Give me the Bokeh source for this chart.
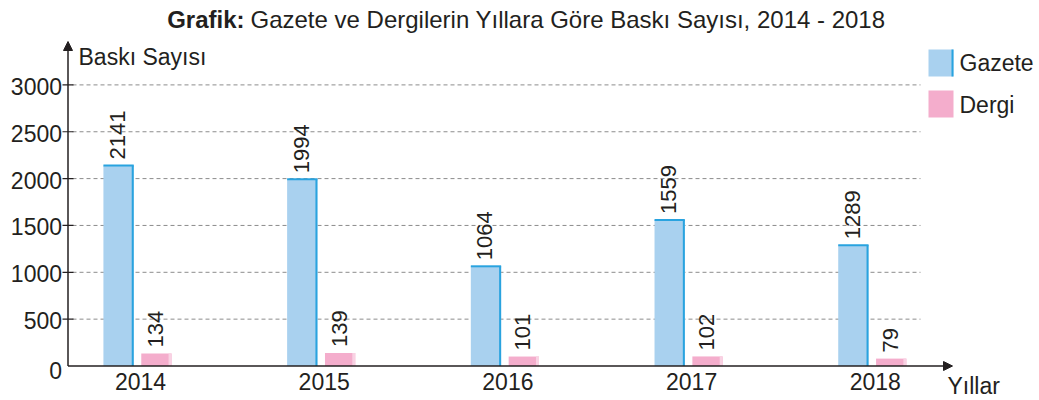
import numpy as np
from bokeh.plotting import figure
from bokeh.models import Arrow, NormalHead, Range1d
from bokeh.core.properties import value
from bokeh.embed import file_html
from bokeh.resources import INLINE

# ---------------- data ----------------
years = ["2014", "2015", "2016", "2017", "2018"]
gazete = [2141, 1994, 1064, 1559, 1289]
dergi = [134, 139, 101, 102, 79]
y_ticks = [0, 500, 1000, 1500, 2000, 2500, 3000]
series_names = ["Gazete", "Dergi"]
title_bold = "Grafik:"
title_rest = "Gazete ve Dergilerin Yıllara Göre Baskı Sayısı, 2014 - 2018"
y_title = "Baskı Sayısı"
x_title = "Yıllar"

# ---------------- geometry (reference pixel frame) ----------------
W, H = 1036, 398
OX, OY = 0, 0                 # page offset of the canvas
X0_PX, DX_PX = 137.0, 183.7   # pixel centre of first year group, group spacing
Y0_PX, DY_PX = 365.5, 0.0937  # pixel of value 0, pixels per unit


def px_x(X):
    return (X - X0_PX) / DX_PX


def px_y(Y):
    return (Y0_PX - Y) / DY_PX


FONT = value("Liberation Sans")
FS = "23px"
FS_T = "24px"
FS_V = "22px"
TXT = "#231f20"
BLUE = "#a9d1ef"
BLUE_EDGE = "#29a3df"
PINK = "#f4adcc"
PINK_EDGE = "#f9d2e3"

p = figure(width=W, height=H,
           x_range=Range1d(px_x(OX), px_x(OX + W)),
           y_range=Range1d(px_y(OY + H), px_y(OY)),
           output_backend="svg", toolbar_location=None,
           x_axis_type=None, y_axis_type=None, min_border=0)
p.outline_line_color = None
p.background_fill_color = "white"
p.border_fill_color = "white"

# gridlines
gt = y_ticks[1:]
p.segment(x0=[px_x(72)] * len(gt), y0=gt, x1=[px_x(920)] * len(gt), y1=gt,
          line_color="#8c8c8c", line_width=1, line_dash="4 3")

# bars
xs = np.arange(len(years), dtype=float)
off, bw = 0.103, 0.165
gx = xs - off
dx = xs + off
px1 = 1.0 / DX_PX
p.vbar(x=gx, top=gazete, bottom=0, width=bw, fill_color=BLUE, line_color=None)
p.segment(x0=gx + bw / 2 - px1, y0=[0] * 5, x1=gx + bw / 2 - px1, y1=gazete,
          line_color=BLUE_EDGE, line_width=2)
p.segment(x0=gx - bw / 2, y0=gazete, x1=gx + bw / 2, y1=gazete,
          line_color=BLUE_EDGE, line_width=2)
p.vbar(x=dx, top=dergi, bottom=0, width=bw, fill_color=PINK, line_color=None)
p.vbar(x=dx + bw / 2 - 1.5 * px1, top=dergi, bottom=0, width=3 * px1,
       fill_color=PINK_EDGE, line_color=None)

# value labels
p.text(x=gx, y=gazete, text=[str(v) for v in gazete], angle=np.pi / 2,
       text_align="left", text_baseline="middle", y_offset=-6, x_offset=-1,
       text_font=FONT, text_font_size=FS_V, text_color=TXT)
p.text(x=dx, y=dergi, text=[str(v) for v in dergi], angle=np.pi / 2,
       text_align="left", text_baseline="middle", y_offset=-6, x_offset=-1,
       text_font=FONT, text_font_size=FS_V, text_color=TXT)

# axes
ax_x = px_x(67.5)
p.add_layout(Arrow(x_start=ax_x, y_start=0, x_end=ax_x, y_end=px_y(41),
                   line_color=TXT, line_width=1.5,
                   end=NormalHead(size=9, fill_color=TXT, line_color=TXT)))
p.add_layout(Arrow(x_start=ax_x, y_start=0, x_end=px_x(952), y_end=0,
                   line_color=TXT, line_width=1.5,
                   end=NormalHead(size=9, fill_color=TXT, line_color=TXT)))
p.segment(x0=[px_x(62)] * len(gt), y0=gt, x1=[px_x(73)] * len(gt), y1=gt,
          line_color=TXT, line_width=1.2)

# tick labels
p.text(x=[ax_x] * len(gt), y=gt, text=[str(t) for t in gt], text_align="right",
       text_baseline="middle", x_offset=-6, y_offset=1.5,
       text_font=FONT, text_font_size=FS, text_color=TXT)
p.text(x=[ax_x], y=[y_ticks[0]], text=[str(y_ticks[0])], text_align="right",
       text_baseline="middle", x_offset=-6, y_offset=4.5,
       text_font=FONT, text_font_size=FS, text_color=TXT)
p.text(x=xs, y=[0] * 5, text=years, text_align="center",
       text_baseline="middle", y_offset=15, x_offset=3,
       text_font=FONT, text_font_size=FS, text_color=TXT)

# axis titles
p.text(x=[px_x(78)], y=[px_y(56.5)], text=[y_title], text_align="left",
       text_baseline="middle", text_font=FONT, text_font_size=FS, text_color=TXT)
p.text(x=[px_x(947)], y=[px_y(385)], text=[x_title], text_align="left",
       text_baseline="middle", text_font=FONT, text_font_size=FS, text_color=TXT)

# title
p.text(x=[px_x(244)], y=[px_y(19)], text=[title_bold], text_align="right",
       text_baseline="middle", text_font=FONT, text_font_size=FS_T,
       text_font_style="bold", text_color=TXT)
p.text(x=[px_x(250)], y=[px_y(19)], text=[title_rest], text_align="left",
       text_baseline="middle", text_font=FONT, text_font_size=FS_T, text_color=TXT)

# legend
leg_y = [px_y(62.5), px_y(103.5)]
p.rect(x=[px_x(940.5)] * 2, y=leg_y, width=25, height=27,
       width_units="screen", height_units="screen",
       fill_color=[BLUE, PINK], line_color=None)
p.segment(x0=[px_x(952)], y0=[px_y(49)], x1=[px_x(952)], y1=[px_y(76)],
          line_color=BLUE_EDGE, line_width=2)
p.text(x=[px_x(959)] * 2, y=[px_y(62.5), px_y(104)], text=series_names,
       text_align="left", text_baseline="middle",
       text_font=FONT, text_font_size=FS, text_color=TXT)

open("out.html", "w").write(file_html(p, INLINE))
